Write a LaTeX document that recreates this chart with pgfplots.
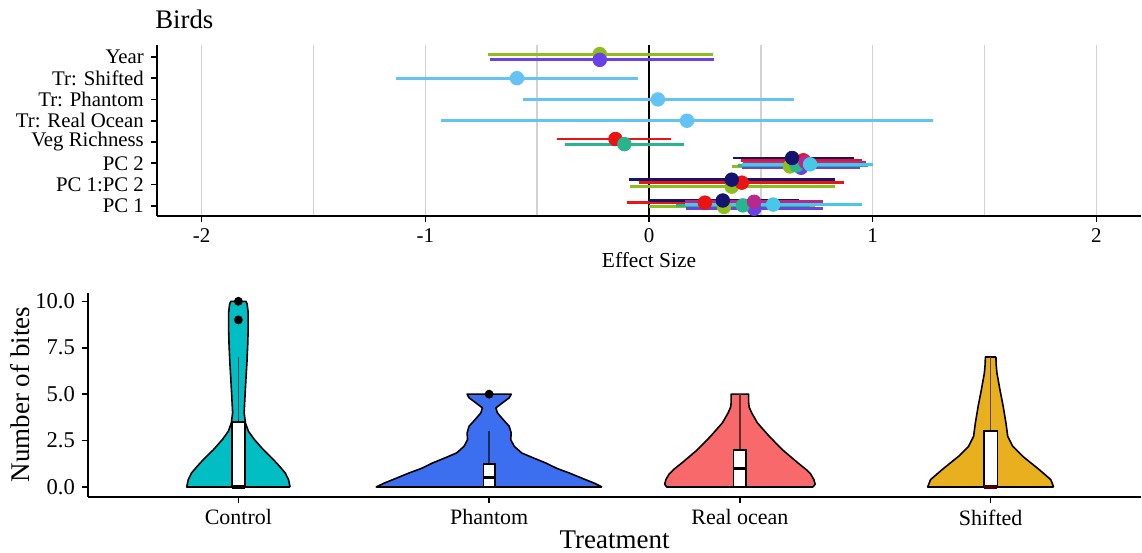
\documentclass[border=0pt]{standalone}
\usepackage{fontspec}
\setmainfont{Liberation Serif}
\usepackage{pgfplots}
\pgfplotsset{compat=1.18}
\usepackage{pgfplotstable}

\definecolor{skyb}{RGB}{100,195,245}
\definecolor{ygreen}{RGB}{141,190,30}
\definecolor{bviolet}{RGB}{105,65,230}
\definecolor{pred}{RGB}{235,20,20}
\definecolor{tealg}{RGB}{40,180,140}
\definecolor{navyb}{RGB}{20,20,110}
\definecolor{mag}{RGB}{185,40,140}
\definecolor{cyanb}{RGB}{70,200,230}
\definecolor{vctrl}{RGB}{0,190,196}
\definecolor{vphan}{RGB}{60,110,240}
\definecolor{vreal}{RGB}{248,105,107}
\definecolor{vshift}{RGB}{232,175,30}

% ---------- forest-plot data: est lo hi y ----------
\pgfplotstableread{
est lo hi y
0.64 0.375 0.915 3.25
0.37 -0.09 0.83 2.23
0.33 0.0 0.67 1.25
}\tnavy
\pgfplotstableread{
est lo hi y
-0.15 -0.41 0.10 4.14
0.69 0.41 0.95 3.14
0.415 -0.045 0.87 2.09
0.25 -0.10 0.60 1.15
}\tred
\pgfplotstableread{
est lo hi y
0.70 0.42 0.97 3.05
0.47 0.16 0.78 1.19
}\tmag
\pgfplotstableread{
est lo hi y
0.72 0.415 1.00 2.95
0.555 0.16 0.95 1.06
}\tcyan
\pgfplotstableread{
est lo hi y
-0.11 -0.375 0.155 3.90
0.66 0.40 0.98 2.90
0.42 0.12 0.72 1.02
}\tteal
\pgfplotstableread{
est lo hi y
-0.22 -0.72 0.285 8.13
0.63 0.37 0.94 2.85
0.37 -0.085 0.83 1.90
0.335 0.0 0.74 0.95
}\tgreen
\pgfplotstableread{
est lo hi y
-0.22 -0.71 0.29 7.86
0.68 0.415 0.945 2.79
0.47 0.165 0.78 0.86
}\tviolet
\pgfplotstableread{
est lo hi y
-0.59 -1.13 -0.05 7
0.04 -0.565 0.65 6
0.17 -0.93 1.27 5
}\tsky

% ---------- violin outlines: signed half-width w, value y ----------
\pgfplotstableread{
w y
0.206 0
0.200 0.39
0.187 0.75
0.165 1.1
0.140 1.47
0.100 2.0
0.064 2.55
0.040 3.0
0.028 3.45
0.023 4.0
0.026 4.8
0.030 5.78
0.034 6.7
0.037 7.58
0.039 8.5
0.039 9.38
0.035 9.85
0.030 10
-0.030 10
-0.035 9.85
-0.039 9.38
-0.039 8.5
-0.037 7.58
-0.034 6.7
-0.030 5.78
-0.026 4.8
-0.023 4.0
-0.028 3.45
-0.040 3.0
-0.064 2.55
-0.100 2.0
-0.140 1.47
-0.165 1.1
-0.187 0.75
-0.200 0.39
-0.206 0
0.206 0
}\vctrltab
\pgfplotstableread{
w y
0.450 0
0.420 0.2
0.385 0.39
0.320 0.75
0.270 1.0
0.226 1.29
0.170 1.6
0.130 1.83
0.100 2.19
0.086 2.55
0.088 2.91
0.080 3.27
0.056 3.63
0.033 3.99
0.027 4.26
0.053 4.53
0.080 4.8
0.088 5.0
-0.088 5.0
-0.080 4.8
-0.053 4.53
-0.027 4.26
-0.033 3.99
-0.056 3.63
-0.080 3.27
-0.088 2.91
-0.086 2.55
-0.100 2.19
-0.130 1.83
-0.170 1.6
-0.226 1.29
-0.270 1.0
-0.320 0.75
-0.385 0.39
-0.420 0.2
-0.450 0
0.450 0
}\vphantab
\pgfplotstableread{
w y
0.292 0
0.300 0.15
0.295 0.4
0.282 0.7
0.265 0.93
0.240 1.2
0.216 1.47
0.170 2.0
0.117 2.73
0.070 3.45
0.047 3.99
0.037 4.3
0.035 4.53
0.035 5.0
-0.035 5.0
-0.035 4.53
-0.037 4.3
-0.047 3.99
-0.070 3.45
-0.117 2.73
-0.170 2.0
-0.216 1.47
-0.240 1.2
-0.265 0.93
-0.282 0.7
-0.295 0.4
-0.300 0.15
-0.292 0
0.292 0
}\vrealtab
\pgfplotstableread{
w y
0.251 0
0.240 0.39
0.194 0.93
0.160 1.3
0.128 1.65
0.088 2.19
0.068 2.73
0.061 3.45
0.050 4.34
0.037 5.24
0.025 6.14
0.022 6.6
0.021 7.0
-0.021 7.0
-0.022 6.6
-0.025 6.14
-0.037 5.24
-0.050 4.34
-0.061 3.45
-0.068 2.73
-0.088 2.19
-0.128 1.65
-0.160 1.3
-0.194 0.93
-0.240 0.39
-0.251 0
0.251 0
}\vshifttab

\newcommand{\forest}[2]{%
  \addplot[only marks, mark=*, mark size=3.4pt, color=#1,
    error bars/.cd, x dir=both, x explicit, error mark=none,
    error bar style={line width=1.4pt, color=#1}]
    table[x=est, y=y,
      x error plus expr={\thisrow{hi}-\thisrow{est}},
      x error minus expr={\thisrow{est}-\thisrow{lo}}] {#2};}

\newcommand{\violin}[3]{%
  \addplot[fill=#2, draw=black, line width=0.8pt, line join=round]
    table[x expr={#1+\thisrow{w}}, y=y] {#3};}

\begin{document}
\begin{tikzpicture}[x=1pt,y=1pt]
\path (0,0) rectangle (571,276.5);

% ================= top: forest plot =================
\begin{axis}[
  at={(78.5pt,168.5pt)}, anchor=south west, scale only axis,
  width=492.5pt, height=85.5pt,
  xmin=-2.2, xmax=2.2, ymin=0.53, ymax=8.56,
  axis x line*=bottom, axis y line*=left,
  axis line style={line width=0.9pt, -},
  xtick={-2,-1,0,1,2}, xticklabels={{-2},{-1},0,1,2},
  minor xtick={-1.5,-0.5,0.5,1.5},
  xmajorgrids, xminorgrids,
  major grid style={gray!35, line width=0.7pt},
  minor grid style={gray!35, line width=0.7pt},
  ytick={1,...,8},
  yticklabels={PC 1, PC 1:PC 2, PC 2, Veg Richness, Tr: Real Ocean, Tr: Phantom, Tr: Shifted, Year},
  tick align=outside, major tick length=3pt, minor tick length=0pt,
  tick style={black, line width=0.8pt},
  yticklabel style={font=\fontsize{10.4}{11}\selectfont, inner ysep=0.5pt},
  xticklabel style={font=\fontsize{10.5}{12}\selectfont},
  xlabel={Effect Size},
  xlabel style={font=\fontsize{10.7}{12}\selectfont, yshift=2pt},
  clip=false,
]
\addplot[black, line width=0.8pt] coordinates {(0,0.53) (0,8.56)};
\forest{skyb}{\tsky}
\forest{ygreen}{\tgreen}
\forest{bviolet}{\tviolet}
\forest{pred}{\tred}
\forest{tealg}{\tteal}
\forest{navyb}{\tnavy}
\forest{mag}{\tmag}
\forest{cyanb}{\tcyan}
\node[anchor=south west, inner sep=0pt, font=\fontsize{13.4}{15}\selectfont]
  at ([yshift=8pt,xshift=-1pt]rel axis cs:0,1) {Birds};
\end{axis}

% ================= bottom: violins =================
\begin{axis}[
  at={(44pt,28pt)}, anchor=south west, scale only axis,
  width=527pt, height=102pt,
  xmin=0.4, xmax=4.6, ymin=-0.52, ymax=10.46,
  axis x line*=bottom, axis y line*=left,
  axis line style={line width=0.9pt, -},
  xtick={1,2,3,4}, xticklabels={Control,Phantom,Real ocean,Shifted},
  ytick={0,2.5,5,7.5,10}, yticklabels={0.0,2.5,5.0,7.5,10.0},
  tick align=outside, major tick length=3pt,
  tick style={black, line width=0.8pt},
  xticklabel style={font=\fontsize{11}{12}\selectfont},
  yticklabel style={font=\fontsize{11.3}{13}\selectfont},
  xlabel={Treatment}, ylabel={Number of bites},
  label style={font=\fontsize{13.5}{15}\selectfont},
  ylabel style={at={(axis description cs:-0.0645,0.5)}, anchor=center, inner sep=0pt},
  xlabel style={at={(axis description cs:0.5,0)}, anchor=center, inner sep=0pt, yshift=-21.5pt},
  clip=false,
]
\violin{1}{vctrl}{\vctrltab}
\violin{2}{vphan}{\vphantab}
\violin{3}{vreal}{\vrealtab}
\violin{4}{vshift}{\vshifttab}

% whiskers
\addplot[vctrl!40!black, line width=0.8pt] coordinates {(1,3.5) (1,7)};
\addplot[vphan!40!black, line width=0.8pt] coordinates {(2,1.25) (2,3)};
\addplot[vreal!40!black, line width=0.8pt] coordinates {(3,2) (3,5)};
\addplot[vshift!40!black, line width=0.8pt] coordinates {(4,3) (4,7)};

% boxes
\addplot[fill=white, draw=black, line width=0.8pt] coordinates {(0.974,0) (1.026,0) (1.026,3.5) (0.974,3.5) (0.974,0)};
\addplot[fill=white, draw=black, line width=0.8pt] coordinates {(1.977,0) (2.023,0) (2.023,1.25) (1.977,1.25) (1.977,0)};
\addplot[fill=white, draw=black, line width=0.8pt] coordinates {(2.975,0) (3.025,0) (3.025,2) (2.975,2) (2.975,0)};
\addplot[fill=white, draw=black, line width=0.8pt] coordinates {(3.973,0) (4.027,0) (4.027,3) (3.973,3) (3.973,0)};

% medians
\addplot[black, line width=1.6pt] coordinates {(0.974,0) (1.026,0)};
\addplot[black, line width=1.6pt] coordinates {(1.977,0.5) (2.023,0.5)};
\addplot[black, line width=1.6pt] coordinates {(2.975,1) (3.025,1)};
\addplot[black!50!red!60!black, line width=1.6pt] coordinates {(3.973,0) (4.027,0)};

% outliers
\addplot[only marks, mark=*, mark size=2pt, black] coordinates {(1,10) (1,9) (2,5)};
\end{axis}
\end{tikzpicture}
\end{document}
